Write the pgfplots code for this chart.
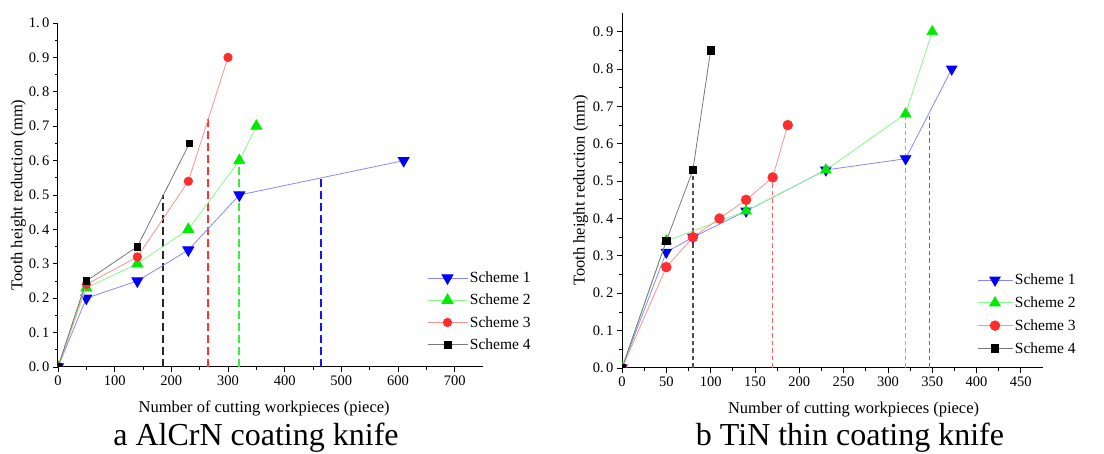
\documentclass[border=0pt]{standalone}
\usepackage{fontspec}
\setmainfont{Liberation Serif}
\usepackage{pgfplots}
\pgfplotsset{compat=1.18}
\definecolor{cblue}{RGB}{0,0,255}
\definecolor{lblue}{RGB}{135,135,255}
\definecolor{cgreen}{RGB}{0,235,0}
\definecolor{lgreen}{RGB}{135,250,135}
\definecolor{cred}{RGB}{255,45,45}
\definecolor{lred}{RGB}{255,145,145}
\definecolor{lgray}{RGB}{120,120,120}
\definecolor{dred}{RGB}{255,50,50}
\definecolor{dgreen}{RGB}{60,235,60}
\definecolor{dblue}{RGB}{20,20,255}
\definecolor{dblack}{RGB}{40,40,40}
\definecolor{dred2}{RGB}{255,100,100}
\definecolor{dgreen2}{RGB}{70,235,70}
\definecolor{dblue2}{RGB}{90,90,255}
\definecolor{dgray2}{RGB}{80,80,80}
\pgfplotsset{
  myaxis/.style={
    scale only axis,
    axis lines=left,
    axis line style={-, line width=1pt, black},
    tick align=outside,
    major tick length=5pt,
    minor tick length=3pt,
    minor x tick num=1,
    minor y tick num=1,
    every tick/.style={black, line width=0.8pt},
    /pgf/number format/assume math mode=true,
    tick label style={font=\fontsize{14.5}{17}\selectfont},
    label style={font=\fontsize{16.5}{19}\selectfont},
    xlabel={Number of cutting workpieces (piece)},
    ylabel={Tooth height reduction (mm)},
    clip marker paths=true,
    legend cell align=left,
  },
  s1/.style={lblue, line width=0.8pt, mark=triangle*, mark options={cblue, fill=cblue, rotate=180, solid}},
  s2/.style={lgreen, line width=0.8pt, mark=triangle*, mark options={cgreen, fill=cgreen, solid}},
  s3/.style={lred, line width=0.8pt, mark=*, mark options={cred, fill=cred, solid}},
  s4/.style={lgray, line width=0.8pt, mark=square*, mark options={black, fill=black, solid}},
  dl/.style={line width=1.9pt, dash pattern=on 8pt off 4pt, forget plot},
  dr/.style={line width=1.35pt, dash pattern=on 4.5pt off 3pt, forget plot},
}
\begin{document}
\begin{tikzpicture}
\useasboundingbox (0pt,0pt) rectangle (1104pt,454pt);
% ---------------- left chart ----------------
\begin{axis}[myaxis,
  at={(58pt,87pt)}, anchor=south west,
  width=425pt, height=344pt,
  xmin=0, xmax=750, ymin=0, ymax=1.0,
  xtick={0,100,...,700},
  ytick={0,0.1,0.2,0.3,0.4,0.5,0.6,0.7,0.8,0.9,1.0},
  yticklabels={0.\,0,0.\,1,0.\,2,0.\,3,0.\,4,0.\,5,0.\,6,0.\,7,0.\,8,0.\,9,1.\,0},
  ylabel shift=-4pt,
  xlabel style={at={(axis description cs:0.485,0)}, anchor=north, yshift=-30pt},
  legend style={at={(0.868,0.283)}, anchor=north west, draw=none, fill=none,
    font=\fontsize{15.5}{18}\selectfont, row sep=6pt, inner sep=0pt},
  legend image code/.code={\draw[mark repeat=2,mark phase=2] plot coordinates {(0pt,0pt)(20pt,0pt)(40pt,0pt)};},
]
\addplot[draw=dblack, dl] coordinates {(185,0) (185,0.5)};
\addplot[draw=dred, dl] coordinates {(264,0) (264,0.72)};
\addplot[draw=dgreen, dl] coordinates {(320,0) (320,0.6)};
\addplot[draw=dblue, dl] coordinates {(464,0) (464,0.55)};
\addplot[s1, mark size=6.3pt] coordinates {(0,0) (50,0.2) (140,0.25) (230,0.34) (320,0.5) (610,0.6)};
\addlegendentry{Scheme 1}
\addplot[s2, mark size=6.3pt] coordinates {(0,0) (50,0.23) (140,0.3) (230,0.4) (320,0.6) (350,0.7)};
\addlegendentry{Scheme 2}
\addplot[s3, mark size=4.2pt] coordinates {(0,0) (50,0.24) (140,0.32) (230,0.54) (300,0.9)};
\addlegendentry{Scheme 3}
\addplot[s4, mark size=3.4pt] coordinates {(0,0) (50,0.25) (140,0.35) (232,0.65)};
\addlegendentry{Scheme 4}
\end{axis}
% ---------------- right chart ----------------
\begin{axis}[myaxis,
  at={(622pt,86pt)}, anchor=south west,
  width=421pt, height=355pt,
  xmin=0, xmax=475, ymin=0, ymax=0.95,
  xtick={0,50,...,450},
  ytick={0,0.1,0.2,0.3,0.4,0.5,0.6,0.7,0.8,0.9},
  yticklabels={0.\,0,0.\,1,0.\,2,0.\,3,0.\,4,0.\,5,0.\,6,0.\,7,0.\,8,0.\,9},
  ylabel shift=-2pt,
  xlabel style={at={(axis description cs:0.55,0)}, anchor=north, yshift=-30pt},
  legend style={at={(0.843,0.271)}, anchor=north west, draw=none, fill=none,
    font=\fontsize{15.5}{18}\selectfont, row sep=6.5pt, inner sep=0pt},
  legend image code/.code={\draw[mark repeat=2,mark phase=2] plot coordinates {(0pt,0pt)(17.5pt,0pt)(35pt,0pt)};},
]
\addplot[draw=dgray2, dr] coordinates {(80,0) (80,0.53)};
\addplot[draw=dred2, dr] coordinates {(170,0) (170,0.51)};
\addplot[draw=dgreen2, dr] coordinates {(320,0) (320,0.68)};
\addplot[draw=dblue2, dr] coordinates {(347,0) (347,0.68)};
\addplot[s1, mark size=6pt] coordinates {(0,0) (50,0.31) (80,0.35) (140,0.42) (230,0.53) (320,0.56) (372,0.8)};
\addlegendentry{Scheme 1}
\addplot[s2, mark size=6pt] coordinates {(0,0) (50,0.34) (140,0.42) (230,0.53) (320,0.68) (350,0.9)};
\addlegendentry{Scheme 2}
\addplot[s3, mark size=4.8pt] coordinates {(0,0) (50,0.27) (80,0.35) (110,0.4) (140,0.45) (170,0.51) (187,0.65)};
\addlegendentry{Scheme 3}
\addplot[s4, mark size=3.7pt] coordinates {(0,0) (50,0.34) (80,0.53) (100,0.85)};
\addlegendentry{Scheme 4}
\end{axis}
% ---------------- captions ----------------
\node[inner sep=0pt, font=\fontsize{32}{38}\selectfont] at (256pt,16pt) {a AlCrN coating knife};
\node[inner sep=0pt, font=\fontsize{32}{38}\selectfont] at (850pt,16pt) {b TiN thin coating knife};
\end{tikzpicture}
\end{document}
